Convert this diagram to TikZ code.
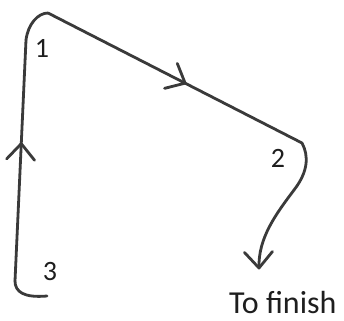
\documentclass[tikz,border=0pt]{standalone}
\usepackage{fontspec}
\setmainfont{Carlito}
\usetikzlibrary{decorations.markings}
\definecolor{pen}{HTML}{3A3A3A}
\definecolor{ink}{HTML}{1E1E1E}
\tikzset{
  penline/.style={draw=pen, line width=2.8pt, line cap=round, line join=round},
  chevron/.style={postaction={decorate}, decoration={markings,
     mark=at position #1 with {\draw[penline] (-16pt,14pt) -- (0pt,0pt) -- (-16pt,-14pt);}}},
  numlabel/.style={text=ink, font=\fontsize{28}{32}\selectfont, inner sep=0pt},
  endlabel/.style={text=ink, font=\fontsize{32}{36}\selectfont, inner sep=0pt}
}
\begin{document}
\begin{tikzpicture}[x=1pt,y=-1pt]
\useasboundingbox[fill=white] (0,0) rectangle (344,320);
\coordinate (e3) at (47,296);
\coordinate (b3) at (15,281);
\coordinate (t1) at (26,40);
\coordinate (apex) at (48,13);
\coordinate (c2) at (302,143);
\coordinate (bend) at (294,190);
\coordinate (tip) at (259,268);
\draw[penline] (e3) .. controls (24,298) and (15,292) .. (b3);
\draw[penline, chevron=0.57] (b3) -- (t1);
\draw[penline] (t1) .. controls (28,24) and (38,13) .. (apex);
\draw[penline, chevron=0.54] (apex) -- (c2);
\draw[penline] (c2) .. controls (309,156) and (308,172) .. (bend);
\draw[penline, chevron=1] (bend) .. controls (276,214) and (258,238) .. (tip);
\node[numlabel] (n1) at (42,48) {1};
\node[numlabel] (n2) at (278,158) {2};
\node[numlabel] (n3) at (50,272) {3};
\node[endlabel, anchor=base west] (fin) at (229,313) {To finish};
\end{tikzpicture}
\end{document}
